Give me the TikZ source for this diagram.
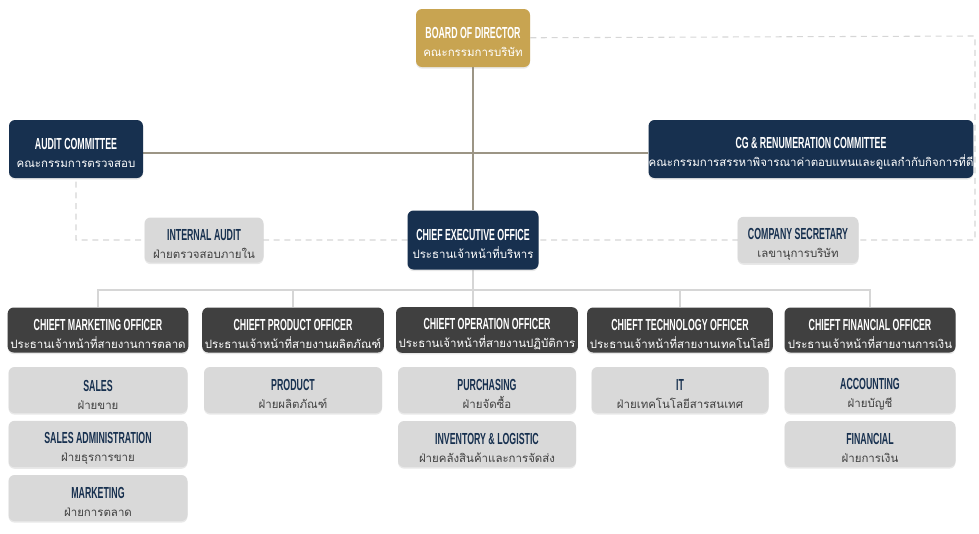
\documentclass[tikz,border=0pt]{standalone}
\usepackage{fontspec}
\setmainfont{Liberation Sans}
\newfontfamily\headfont[FakeStretch=0.55]{Liberation Sans}
\newfontfamily\thaifont[Script=Thai]{Loma}
\usetikzlibrary{shadows,backgrounds}
\definecolor{gold}{HTML}{C8A451}
\definecolor{navy}{HTML}{17304F}
\definecolor{charcoal}{HTML}{404040}
\definecolor{pale}{HTML}{D9D9D9}
\definecolor{brownline}{HTML}{9C9585}
\definecolor{greyline}{HTML}{D6D6D6}
\newcommand{\two}[2]{{\headfont\bfseries\fontsize{12}{13}\selectfont\rule{0pt}{15pt}#1}\\[1.5pt]{\thaifont\fontsize{8.6}{10}\selectfont #2}}

\begin{document}
\begin{tikzpicture}[x=0.75pt, y=-0.75pt,
  box/.style={rounded corners=4.5pt, inner sep=2pt, align=center, drop shadow={shadow xshift=0pt, shadow yshift=-1.2pt, opacity=0.18}},
  goldbox/.style={box, fill=gold, text=white},
  navybox/.style={box, fill=navy, text=white},
  officer/.style={box, fill=charcoal, text=white, minimum height=33.75pt},
  dept/.style={box, fill=pale, text=navy, minimum height=34.5pt},
  w/.style={minimum width={#1*0.75pt}},
  h/.style={minimum height={#1*0.75pt}},
  solidline/.style={draw=brownline, line width=0.9pt},
  treeline/.style={draw=greyline, line width=0.8pt},
  dashline/.style={draw=greyline, line width=0.8pt, dash pattern=on 4.5pt off 3.5pt}]
\useasboundingbox (0,0) rectangle (979,533);

% top of the chart
\node[goldbox, w=114, h=58] (board) at (473,38) {\two{BOARD OF DIRECTOR}{คณะกรรมการบริษัท}};
\node[navybox, w=134, h=58] (audit) at (76,149) {\two{AUDIT COMMITTEE}{คณะกรรมการตรวจสอบ}};
\node[navybox, w=317, h=58, inner xsep=0pt] (cg) at (811,149) {\two{CG \& RENUMERATION COMMITTEE}{คณะกรรมการสรรหาพิจารณาค่าตอบแทนและดูแลกำกับกิจการที่ดี}};
\node[dept, w=119, h=45] (ia) at (204,240) {\two{INTERNAL AUDIT}{\color{charcoal}ฝ่ายตรวจสอบภายใน}};
\node[navybox, w=131, h=59] (ceo) at (473,240) {\two{CHIEF EXECUTIVE OFFICE}{ประธานเจ้าหน้าที่บริหาร}};
\node[dept, w=121, h=46] (cs) at (798,240) {\two{COMPANY SECRETARY}{\color{charcoal}เลขานุการบริษัท}};

% chief officers
\node[officer, w=179] (cmo) at (98,330) {\two{CHIEFT MARKETING OFFICER}{ประธานเจ้าหน้าที่สายงานการตลาด}};
\node[officer, w=178] (cpo) at (293,330) {\two{CHIEFT PRODUCT OFFICER}{ประธานเจ้าหน้าที่สายงานผลิตภัณฑ์}};
\node[officer, w=178] (coo) at (487,330) {\two{CHIEFT OPERATION OFFICER}{ประธานเจ้าหน้าที่สายงานปฏิบัติการ}};
\node[officer, w=177] (cto) at (680,330) {\two{CHIEFT TECHNOLOGY OFFICER}{ประธานเจ้าหน้าที่สายงานเทคโนโลยี}};
\node[officer, w=171] (cfo) at (870,330) {\two{CHIEFT FINANCIAL OFFICER}{ประธานเจ้าหน้าที่สายงานการเงิน}};

% departments
\node[dept, w=179] (sales) at (98,390) {\two{SALES}{\color{charcoal}ฝ่ายขาย}};
\node[dept, w=179] (salesadm) at (98,444) {\two{SALES ADMINISTRATION}{\color{charcoal}ฝ่ายธุรการขาย}};
\node[dept, w=179] (mkt) at (98,498) {\two{MARKETING}{\color{charcoal}ฝ่ายการตลาด}};
\node[dept, w=178] (prod) at (293,390) {\two{PRODUCT}{\color{charcoal}ฝ่ายผลิตภัณฑ์}};
\node[dept, w=178] (purch) at (487,390) {\two{PURCHASING}{\color{charcoal}ฝ่ายจัดซื้อ}};
\node[dept, w=178] (inv) at (487,444) {\two{INVENTORY \& LOGISTIC}{\color{charcoal}ฝ่ายคลังสินค้าและการจัดส่ง}};
\node[dept, w=177] (it) at (680,390) {\two{IT}{\color{charcoal}ฝ่ายเทคโนโลยีสารสนเทศ}};
\node[dept, w=171] (acc) at (870,390) {\two{ACCOUNTING}{\color{charcoal}ฝ่ายบัญชี}};
\node[dept, w=171] (fin) at (870,444) {\two{FINANCIAL}{\color{charcoal}ฝ่ายการเงิน}};

\coordinate (rt) at (975,36);
\coordinate (rb) at (975,240);
\coordinate (bus) at (473,290);

\begin{scope}[on background layer]
  \draw[dashline] (board) -- (rt) -- (rb) -- (audit |- rb) -- (audit);
  \draw[solidline] (board) -- (ceo);
  \draw[solidline] ([yshift=-3pt]audit.east) -- ([yshift=-3pt]cg.west);
  \draw[treeline] (ceo) -- (ceo |- coo.north);
  \draw[treeline] (cmo) |- (bus) -| (cfo);
  \draw[treeline] (cpo) -- (cpo |- bus);
  \draw[treeline] (cto) -- (cto |- bus);
\end{scope}
\end{tikzpicture}
\end{document}
